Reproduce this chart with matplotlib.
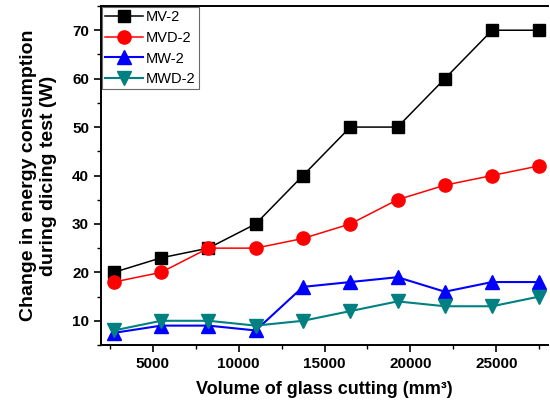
import matplotlib
matplotlib.use("Agg")
import matplotlib.pyplot as plt
from matplotlib.ticker import MultipleLocator

plt.rcParams['font.family'] = ['Liberation Sans', 'DejaVu Sans']

# data
volume = [2750, 5500, 8250, 11000, 13750, 16500, 19250, 22000, 24750, 27500]
mv2 = [20, 23, 25, 30, 40, 50, 50, 60, 70, 70]
mvd2 = [18, 20, 25, 25, 27, 30, 35, 38, 40, 42]
mw2 = [7.5, 9, 9, 8, 17, 18, 19, 16, 18, 18]
mwd2 = [8, 10, 10, 9, 10, 12, 14, 13, 13, 15]

fig = plt.figure(figsize=(5.5, 4.09), dpi=100)
ax = fig.add_axes([0.1836, 0.1565, 0.8128, 0.8288])

ax.plot(volume, mv2, color='black', marker='s', ms=8.5, lw=1.1, label='MV-2')
ax.plot(volume, mvd2, color='red', marker='o', ms=9.5, lw=1.1, label='MVD-2')
ax.plot(volume, mw2, color='blue', marker='^', ms=10, lw=1.5, label='MW-2')
ax.plot(volume, mwd2, color='#008080', marker='v', ms=10, lw=1.5, label='MWD-2')

ax.set_xlim(2000, 28000)
ax.set_ylim(5, 75)
ax.xaxis.set_minor_locator(MultipleLocator(2500))
ax.yaxis.set_minor_locator(MultipleLocator(5))
ax.set_xticks([5000, 10000, 15000, 20000, 25000])
ax.set_yticks([10, 20, 30, 40, 50, 60, 70])
ax.tick_params(which='major', direction='out', length=5, width=1.2, labelsize=11)
ax.tick_params(which='minor', direction='out', length=3, width=1)
for lab in ax.get_xticklabels() + ax.get_yticklabels():
    lab.set_fontweight('bold')

ax.spines['right'].set_visible(False)
for s in ['left', 'bottom', 'top']:
    ax.spines[s].set_linewidth(1.4)

ax.set_xlabel('Volume of glass cutting (mm³)', fontsize=13, fontweight='bold', labelpad=7)
ax.set_ylabel('Change in energy consumption\nduring dicing test (W)', fontsize=14,
              fontweight='bold', labelpad=11, linespacing=1.25)

leg = ax.legend(loc='upper left', fontsize=10.5, frameon=True, fancybox=False,
                borderaxespad=0.1, handlelength=2.6, handletextpad=0.2,
                labelspacing=0.45, borderpad=0.2)
leg.get_frame().set_edgecolor('#444444')
leg.get_frame().set_linewidth(0.8)

fig.savefig('out.png', dpi=100)
